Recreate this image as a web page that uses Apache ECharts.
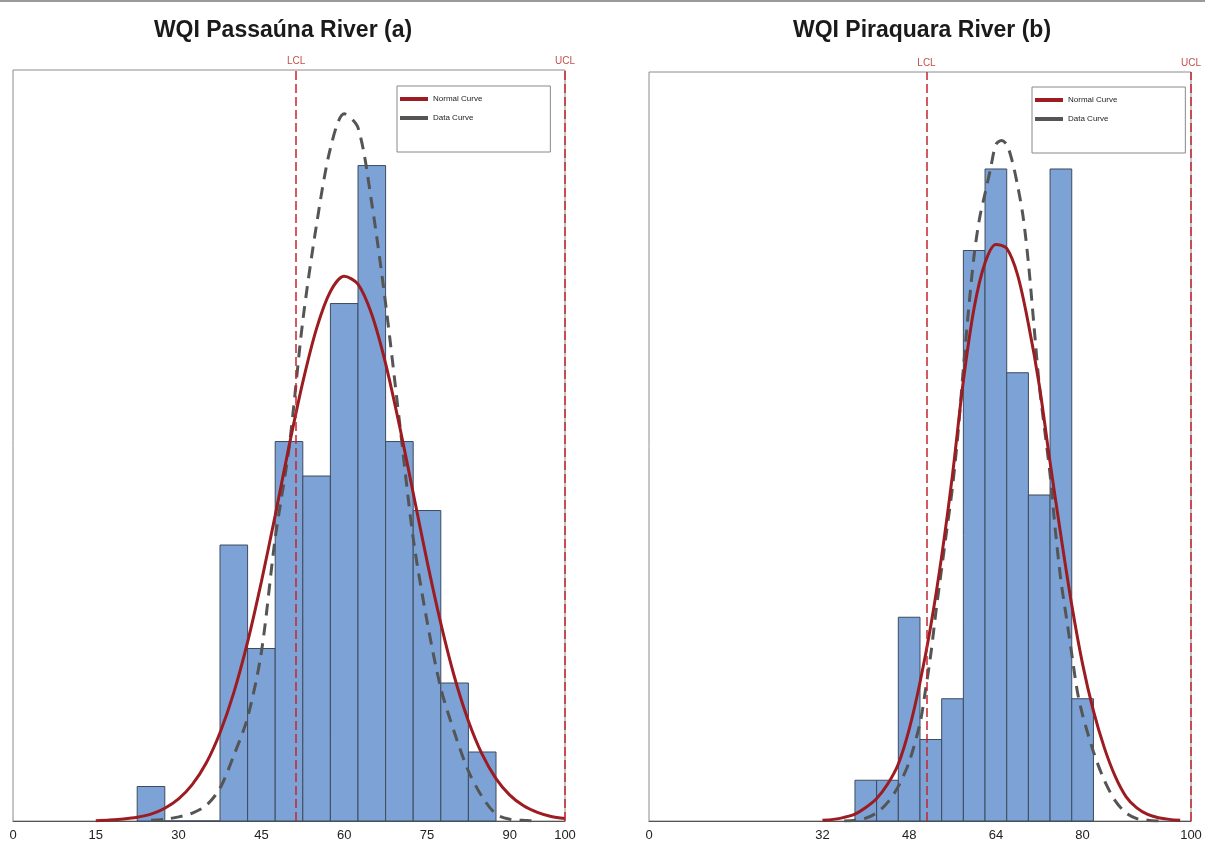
<!DOCTYPE html>
<html><head><meta charset="utf-8">
<script src="https://cdn.jsdelivr.net/npm/echarts@6/dist/echarts.min.js"></script>
<style>html,body{margin:0;padding:0;background:#fff}#c{width:1205px;height:843px}</style>
</head><body><div id="c"></div>
<script>
const titles = ['WQI Passaúna River (a)', 'WQI Piraquara River (b)'];
const legendNames = ['Normal Curve', 'Data Curve'];
const leftTicks = [0, 15, 30, 45, 60, 75, 90, 100];
const rightTicks = [0, 32, 48, 64, 80, 100];

const leftBinEdges = [22.5, 27.5, 32.5, 37.5, 42.5, 47.5, 52.5, 57.5, 62.5, 67.5, 72.5, 77.5, 82.5, 87.5];
const leftCounts = [1, 0, 0, 8, 5, 11, 10, 15, 19, 11, 9, 4, 2];
const rightBinEdges = [38, 42, 46, 50, 54, 58, 62, 66, 70, 74, 78, 82];
const rightCounts = [1, 1, 5, 2, 3, 14, 16, 11, 8, 16, 3];

const leftNormal = [[15,0.01],[17.5,0.03],[20,0.06],[22.5,0.11],[25,0.2],[27.5,0.37],[30,0.64],[32.5,1.06],[35,1.68],[37.5,2.56],[40,3.72],[42.5,5.19],[45,6.94],[47.5,8.86],[50,10.86],[52.5,12.72],[55,14.28],[57.5,15.35],[60,15.79],[62.5,15.56],[65,14.68],[67.5,13.26],[70,11.47],[72.5,9.51],[75,7.54],[77.5,5.73],[80,4.16],[82.5,2.9],[85,1.93],[87.5,1.23],[90,0.75],[92.5,0.44],[95,0.25],[97.5,0.13],[100,0.07]];
const leftDataCurve = [[25,0.02],[27.5,0.05],[30,0.12],[32.5,0.23],[35,0.45],[37.5,0.95],[40,1.9],[42.5,3.0],[45,4.9],[47.5,8.2],[50,10.8],[52.5,14.5],[55,17.3],[57.5,19.5],[60,20.5],[62.5,20.1],[65,17.9],[67.5,15.0],[70,11.6],[72.5,8.2],[75,5.8],[77.5,3.85],[80,2.55],[82.5,1.45],[85,0.7],[87.5,0.2],[90,0.05],[92.5,0.02],[95,0]];
const rightNormal = [[32,0.02],[34,0.04],[36,0.09],[38,0.17],[40,0.33],[42,0.55],[44,0.9],[46,1.4],[48,2.25],[50,3.4],[52,4.8],[54,6.5],[56,8.5],[58,10.8],[60,12.6],[62,13.7],[64,14.15],[66,14.05],[68,13.4],[70,12.2],[72,10.7],[74,8.8],[76,7.0],[78,5.3],[80,3.85],[82,2.7],[84,1.8],[86,1.1],[88,0.6],[90,0.32],[92,0.16],[94,0.08],[96,0.04],[98,0.02]];
const rightDataCurve = [[36,0],[38,0.02],[40,0.07],[42,0.2],[44,0.45],[46,0.85],[48,1.45],[50,2.4],[51,3.2],[52,4.1],[53,5.2],[54,6.2],[55,7.2],[56,8.2],[57,9.5],[58,11.1],[59,12.6],[60,13.9],[61,14.8],[62,15.4],[63,16.0],[64,16.6],[65,16.7],[66,16.6],[67,16.2],[68,15.6],[69,14.85],[70,13.7],[71,12.2],[72,10.7],[73,9.6],[74,8.5],[75,7.1],[76,5.9],[77,5.0],[78,4.1],[79,3.2],[80,2.6],[82,1.7],[84,1.0],[86,0.5],[88,0.2],[90,0.06],[92,0.02],[94,0]];

const leftLimits = [['LCL', 51.3], ['UCL', 100]];
const rightLimits = [['LCL', 51.2], ['UCL', 100]];

const FONT = "'Liberation Sans', Arial, sans-serif";

function bins(edges, counts) {
  return counts.map((c, i) => [edges[i], edges[i + 1], c]);
}

function renderBar(params, api) {
  const p0 = api.coord([api.value(0), api.value(2)]);
  const p1 = api.coord([api.value(1), 0]);
  return {
    type: 'rect',
    shape: { x: p0[0], y: p0[1], width: p1[0] - p0[0], height: p1[1] - p0[1] },
    style: { fill: '#7ca2d6', stroke: '#3e4b5e', lineWidth: 1 }
  };
}

function xAxisFor(idx, ticks, step) {
  return {
    type: 'value', gridIndex: idx, min: 0, max: 100, interval: step,
    axisLine: { show: true, lineStyle: { color: '#555', width: 1 } },
    axisTick: { show: false },
    splitLine: { show: false },
    axisLabel: {
      color: '#222', fontSize: 13, fontFamily: FONT, margin: 8,
      formatter: v => ticks.indexOf(v) >= 0 ? String(v) : ''
    }
  };
}

function yAxisFor(idx, max) {
  return {
    type: 'value', gridIndex: idx, min: 0, max: max,
    axisLine: { show: false }, axisTick: { show: false },
    axisLabel: { show: false }, splitLine: { show: false }
  };
}

function seriesFor(idx, edges, counts, normal, dataCurve, limits) {
  return [
    {
      type: 'line', xAxisIndex: idx, yAxisIndex: idx, data: [], z: 1, silent: true,
      markLine: {
        symbol: ['none', 'none'], silent: true,
        lineStyle: { color: '#c4262e', type: [9, 4], width: 1.5 },
        label: { position: 'end', formatter: p => p.name, color: '#c0504d', fontSize: 10, fontFamily: FONT, distance: 4 },
        data: limits.map(l => ({ name: l[0], xAxis: l[1] }))
      }
    },
    {
      type: 'custom', xAxisIndex: idx, yAxisIndex: idx, z: 2,
      renderItem: renderBar, encode: { x: [0, 1], y: 2 },
      data: bins(edges, counts)
    },
    {
      name: legendNames[0], type: 'line', xAxisIndex: idx, yAxisIndex: idx, z: 4,
      smooth: 0.3, showSymbol: false, data: normal,
      itemStyle: { color: '#9c1c22' },
      lineStyle: { color: '#9c1c22', width: 3 }
    },
    {
      name: legendNames[1], type: 'line', xAxisIndex: idx, yAxisIndex: idx, z: 3,
      smooth: 0.3, showSymbol: false, data: dataCurve,
      itemStyle: { color: '#555555' },
      lineStyle: { color: '#555555', width: 3, type: [12, 8] }
    }
  ];
}

function legendFor(left, top) {
  return {
    data: legendNames, orient: 'vertical', left: left, top: top,
    padding: [9, 68, 30, 3], itemWidth: 28, itemHeight: 4, itemGap: 11,
    icon: 'rect', borderColor: '#888', borderWidth: 1, borderRadius: 0,
    backgroundColor: '#fff', selectedMode: false,
    textStyle: { fontSize: 8, color: '#222', fontFamily: FONT }
  };
}

const chart = echarts.init(document.getElementById('c'));
chart.setOption({
  backgroundColor: '#fff',
  animation: false,
  title: [
    { text: titles[0], left: 283, top: 19, textAlign: 'center', padding: 0,
      textStyle: { fontSize: 23, fontWeight: 'bold', color: '#1a1a1a', fontFamily: FONT } },
    { text: titles[1], left: 922, top: 19, textAlign: 'center', padding: 0,
      textStyle: { fontSize: 23, fontWeight: 'bold', color: '#1a1a1a', fontFamily: FONT } }
  ],
  legend: [legendFor(397, 86), legendFor(1032, 87)],
  grid: [
    { left: 13, right: 640, top: 70, bottom: 22, show: true, borderColor: '#8c8c8c', borderWidth: 1, backgroundColor: 'transparent' },
    { left: 649, right: 14, top: 72, bottom: 22, show: true, borderColor: '#8c8c8c', borderWidth: 1, backgroundColor: 'transparent' }
  ],
  xAxis: [xAxisFor(0, leftTicks, 5), xAxisFor(1, rightTicks, 4)],
  yAxis: [yAxisFor(0, 21.77), yAxisFor(1, 18.38)],
  graphic: [
    { type: 'line', shape: { x1: 0, y1: 1, x2: 1205, y2: 1 }, style: { stroke: '#9a9a9a', lineWidth: 2 }, silent: true }
  ],
  series: [].concat(
    seriesFor(0, leftBinEdges, leftCounts, leftNormal, leftDataCurve, leftLimits),
    seriesFor(1, rightBinEdges, rightCounts, rightNormal, rightDataCurve, rightLimits)
  )
});
</script>
</body></html>
